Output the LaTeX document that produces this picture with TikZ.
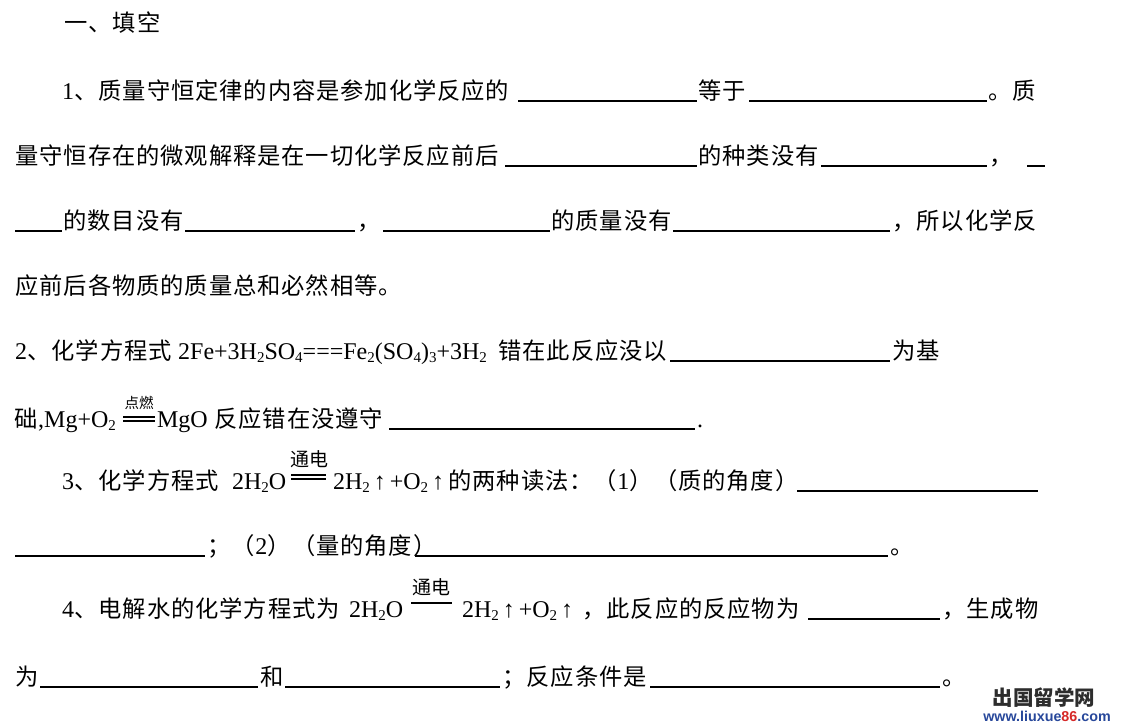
\documentclass[tikz,border=0pt]{standalone}
\usepackage{fontspec}
\setmainfont{Liberation Serif}
\newfontfamily\cjkf{Noto Sans CJK SC}
\newfontfamily\wmsans{Liberation Sans}
\definecolor{wmblue}{RGB}{40,72,155}
\definecolor{wmred}{RGB}{214,40,40}
\definecolor{wmgray}{RGB}{45,45,45}
\newlength\cjcell
\setlength\cjcell{24.2pt}
\makeatletter
\def\cj@end{\cj@end}
\def\cj@loop#1{\ifx#1\cj@end\else\makebox[\cjcell][c]{#1}\expandafter\cj@loop\fi}
\newcommand\cjr[1]{{\cjkf\fontsize{23.3}{26}\selectfont\cj@loop#1\cj@end}}
\makeatother
\newcommand\chsub[1]{\raisebox{-3.5pt}{\fontsize{15}{15}\selectfont #1}}
\newcommand\uparr{\makebox[20pt][c]{↑}}
\begin{document}
\begin{tikzpicture}[x=1pt,y=-1pt,
  t/.style={anchor=base west,inner sep=0pt,outer sep=0pt,font=\fontsize{24}{28}\selectfont},
  ul/.style={line width=1.2pt,black},
  eqb/.style={line width=1.1pt,black},
  labs/.style={anchor=base,inner sep=0pt,outer sep=0pt,font=\cjkf\fontsize{14.5}{16}\selectfont},
  labl/.style={anchor=base,inner sep=0pt,outer sep=0pt,font=\cjkf\fontsize{19}{21}\selectfont}]
\useasboundingbox (0,0) rectangle (1125,726);
\fill[white] (0,0) rectangle (1125,726);

% heading
\node[t] (h) at (64,31) {\cjr{一、填空}};

% line 1
\node[t] (a1) at (62,99) {1\cjr{、质量守恒定律的内容是参加化学反应的}};
\draw[ul] (518,101) -- (697,101);
\node[t] (a2) at (698,99) {\cjr{等于}};
\draw[ul] (749,101) -- (987,101);
\node[t] (a3) at (988,99) {\cjr{。质}};

% line 2
\node[t] (b1) at (15,164) {\cjr{量守恒存在的微观解释是在一切化学反应前后}};
\draw[ul] (505,166) -- (697,166);
\node[t] (b2) at (698,164) {\cjr{的种类没有}};
\draw[ul] (821,166) -- (987,166);
\node[t] (b3) at (989,164) {\cjr{，}};
\draw[ul] (1027,166) -- (1045,166);

% line 3
\draw[ul] (15,231) -- (62,231);
\node[t] (d1) at (63,229) {\cjr{的数目没有}};
\draw[ul] (185,231) -- (355,231);
\node[t] (d2) at (357,229) {\cjr{，}};
\draw[ul] (383,231) -- (550,231);
\node[t] (d3) at (551,229) {\cjr{的质量没有}};
\draw[ul] (673,231) -- (890,231);
\node[t] (d4) at (892,229) {\cjr{，所以化学反}};

% line 4
\node[t] (f1) at (15,294) {\cjr{应前后各物质的质量总和必然相等。}};

% line 5
\node[t] (g1) at (15,359) {2\cjr{、化学方程式} 2Fe+3H\chsub{2}SO\chsub{4}===Fe\chsub{2}(SO\chsub{4})\chsub{3}+3H\chsub{2}};
\node[t] (g2) at (498,359) {\cjr{错在此反应没以}};
\draw[ul] (670,361) -- (890,361);
\node[t] (g3) at (892,359) {\cjr{为基}};

% line 6
\node[t] (k1) at (14,427) {\cjr{础},Mg+O\chsub{2}};
\draw[eqb] (123,417) -- (155,417);
\draw[eqb] (123,421) -- (155,421);
\node[labs] (k2) at (139,408) {点燃};
\node[t] (k3) at (157,427) {MgO};
\node[t] (k4) at (214,427) {\cjr{反应错在没遵守}};
\draw[ul] (389,429) -- (695,429);
\node[t] (k5) at (697,427) {.};

% line 7
\node[t] (c1) at (62,489) {3\cjr{、化学方程式}};
\node[t] (c2) at (232,489) {2H\chsub{2}O};
\draw[eqb] (291,475) -- (326,475);
\draw[eqb] (291,479) -- (326,479);
\node[labl] (c3) at (309,466) {通电};
\node[t] (c4) at (333,489) {2H\chsub{2}\uparr+O\chsub{2}\uparr};
\node[t] (c5) at (448,489) {\cjr{的两种读法：（}1\cjr{）（质的角度）}};
\draw[ul] (797,491) -- (1038,491);

% line 8
\draw[ul] (15,556) -- (205,556);
\node[t] (m1) at (207,554) {\cjr{；（}2\cjr{）（量的角度）}};
\draw[ul] (415,556) -- (888,556);
\node[t] (m2) at (890,554) {\cjr{。}};

% line 9
\node[t] (e1) at (62,617) {4\cjr{、电解水的化学方程式为}};
\draw[eqb] (411,603) -- (452,603);
\node[t] (e2) at (349,617) {2H\chsub{2}O};
\node[labl] (e3) at (431,594) {通电};
\node[t] (e4) at (462,617) {2H\chsub{2}\uparr+O\chsub{2}\uparr};
\node[t] (e5) at (582,617) {\cjr{，此反应的反应物为}};
\draw[ul] (808,619) -- (940,619);
\node[t] (e6) at (942,617) {\cjr{，生成物}};

% line 10
\node[t] (n1) at (15,685) {\cjr{为}};
\draw[ul] (40,687) -- (258,687);
\node[t] (n2) at (260,685) {\cjr{和}};
\draw[ul] (285,687) -- (500,687);
\node[t] (n3) at (502,685) {\cjr{；反应条件是}};
\draw[ul] (650,687) -- (940,687);
\node[t] (n4) at (942,685) {\cjr{。}};

% watermark
\node[inner sep=0pt,font=\cjkf\bfseries\fontsize{20.5}{22}\selectfont,text=wmgray] (wm1) at (1044,698) {出国留学网};
\node[inner sep=0pt,font=\wmsans\bfseries\fontsize{14.3}{16}\selectfont,text=wmblue] (wm2) at (1047,716) {www.liuxue\textcolor{wmred}{86}.com};
\end{tikzpicture}
\end{document}
